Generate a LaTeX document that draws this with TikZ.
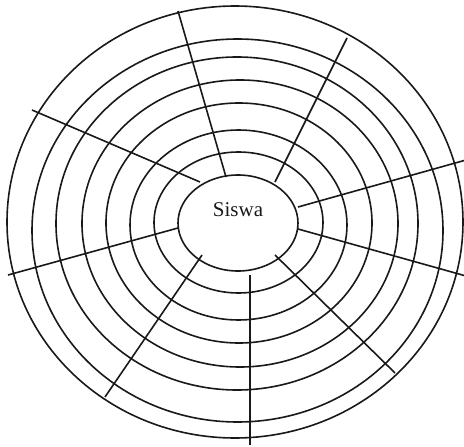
\documentclass[tikz,border=0pt]{standalone}
\usepackage{fontspec}
\setmainfont{Liberation Serif}
\begin{document}
\begin{tikzpicture}[x=1pt,y=-1pt,
  ring/.style={draw=black!90,line width=1.6pt},
  ray/.style={draw=black!90,line width=1.6pt},
  lbl/.style={font=\fontsize{21}{25}\selectfont,text=black!90,inner sep=0pt}]
\useasboundingbox (0,0) rectangle (464,447);
% rings
\draw[ring] (238,223)   ellipse [x radius=60pt,   y radius=48pt];
\draw[ring] (238.5,222.5) ellipse [x radius=84.5pt, y radius=70.5pt];
\draw[ring] (238.5,225) ellipse [x radius=108.5pt,y radius=95pt];
\draw[ring] (239,223)   ellipse [x radius=133pt,  y radius=120pt];
\draw[ring] (240,223.5) ellipse [x radius=158pt,  y radius=143.5pt];
\draw[ring] (237,223.5) ellipse [x radius=181pt,  y radius=166.5pt];
\draw[ring] (237.5,230.5) ellipse [x radius=205.5pt,y radius=191.5pt];
\draw[ring] (235,222)   ellipse [x radius=228pt,  y radius=216pt];
% label
\node[lbl] (siswa) at (238,210) {Siswa};
% rays
\coordinate (a1) at (226,177); \coordinate (b1) at (178,11);
\coordinate (a2) at (275,182); \coordinate (b2) at (347,38);
\coordinate (a3) at (298,207); \coordinate (b3) at (466,160);
\coordinate (a4) at (298,229); \coordinate (b4) at (466,276);
\coordinate (a5) at (275,255); \coordinate (b5) at (395,373);
\coordinate (a6) at (250,275); \coordinate (b6) at (250,445);
\coordinate (a7) at (202,255); \coordinate (b7) at (105,397);
\coordinate (a8) at (178,228); \coordinate (b8) at (8,275);
\coordinate (a9) at (200,182); \coordinate (b9) at (32,110);
\foreach \i in {1,...,9} {\draw[ray] (a\i) -- (b\i);}
\end{tikzpicture}
\end{document}
